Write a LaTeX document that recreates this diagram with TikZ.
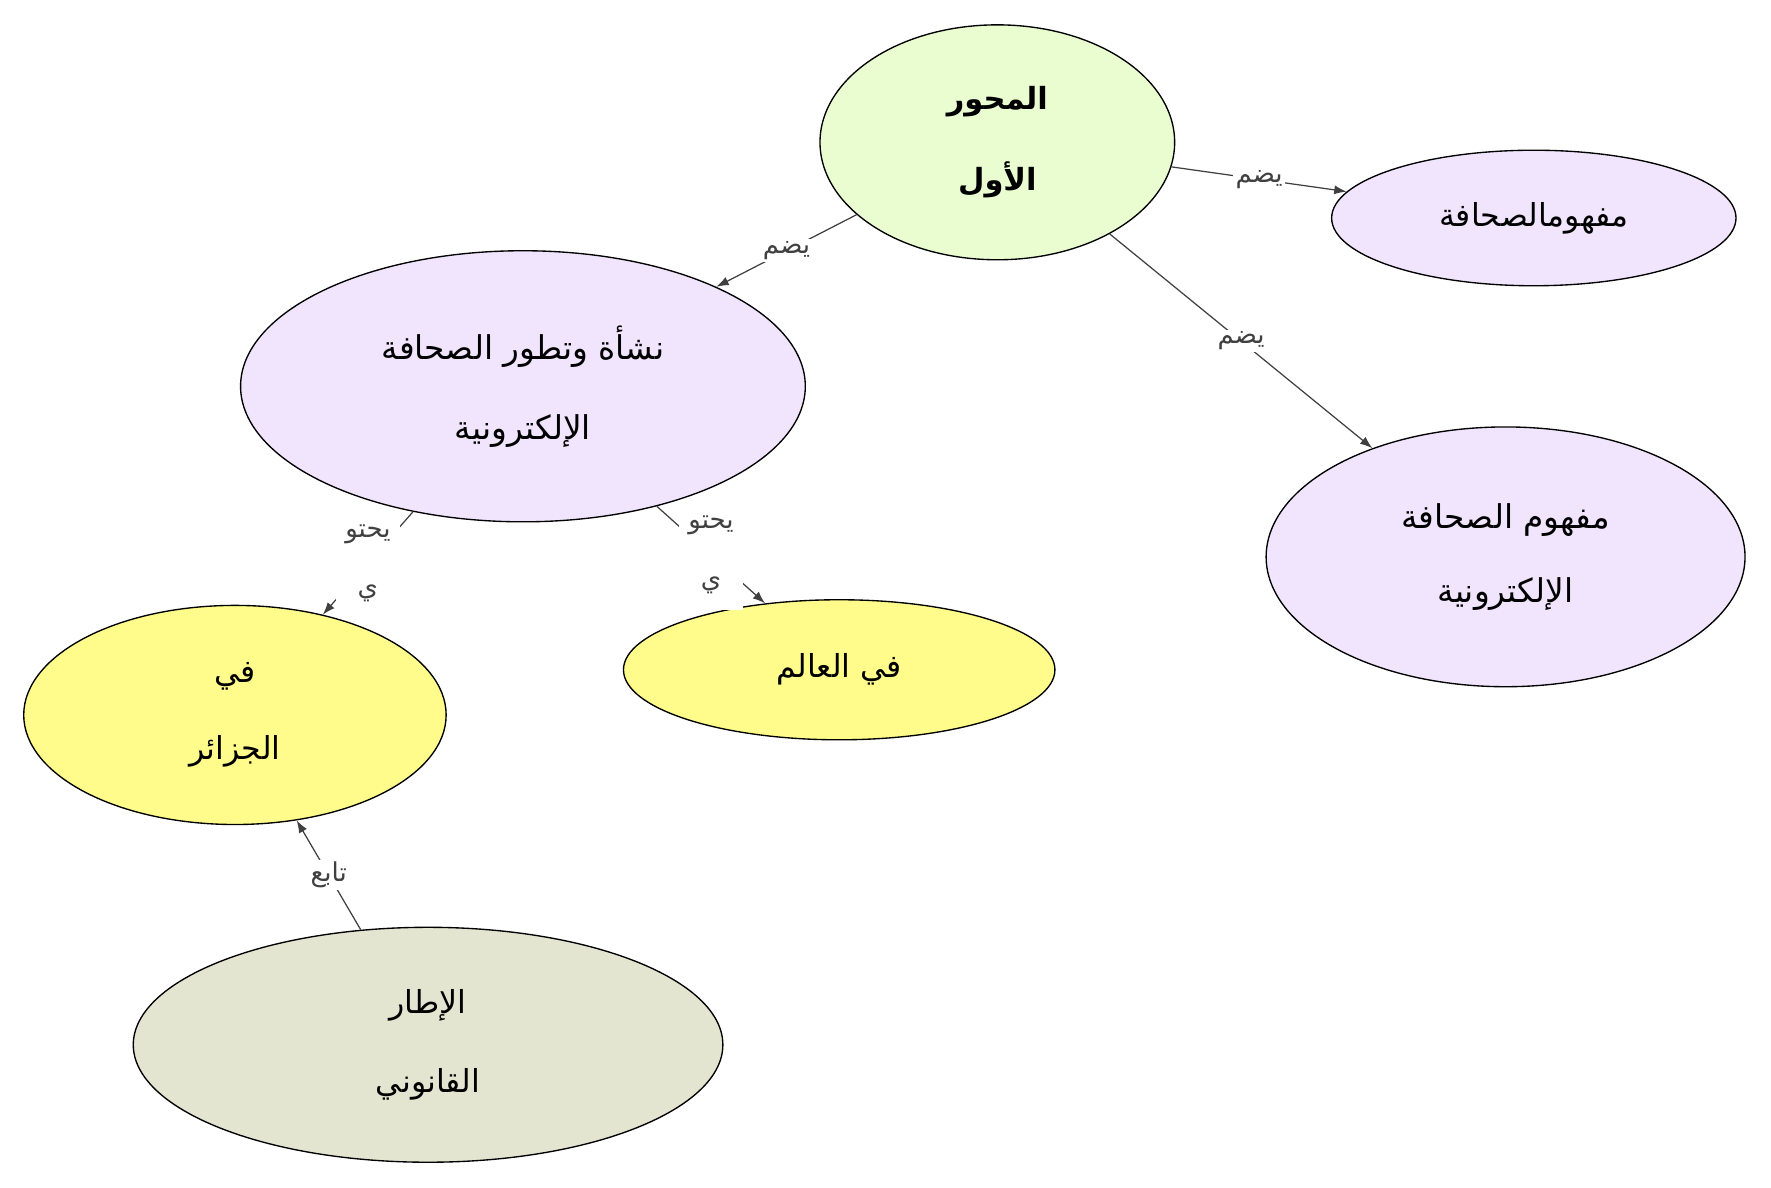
\documentclass[tikz,border=0pt]{standalone}
\usepackage{fontspec}
\newfontfamily\arabicfont[Script=Arabic]{DejaVu Sans}
\TeXXeTstate=1
\usetikzlibrary{shapes.geometric,arrows.meta}
\newcommand{\AR}[1]{\beginR #1\endR}
\definecolor{cgreen}{HTML}{E9FDD1}
\definecolor{clav}{HTML}{F1E5FD}
\definecolor{cyel}{HTML}{FFFC8C}
\definecolor{colive}{HTML}{E3E5D0}
\definecolor{linkgray}{HTML}{404040}
\tikzset{
  concept/.style={ellipse, draw=black, line width=1.2pt, inner sep=0pt, align=center,
    font=\arabicfont\fontsize{28}{70}\selectfont},
  link/.style={draw=linkgray, line width=1.1pt, -{Latex[length=11pt,width=8pt]}},
  lbl/.style={fill=white, text=linkgray, inner sep=2pt, align=center,
    font=\arabicfont\fontsize{23}{52}\selectfont},
  lbltall/.style={lbl, inner xsep=8pt, inner ysep=14pt}
}
\begin{document}
\begin{tikzpicture}[x=1pt,y=-1pt]
\useasboundingbox (0,0) rectangle (1568,1051.8);
\node[concept, fill=cgreen, minimum width=314pt, minimum height=208pt,
  font=\arabicfont\bfseries\fontsize{27}{72}\selectfont] (A) at (883,126) {\AR{المحور}\\\AR{الأول}};
\node[concept, fill=clav, minimum width=358pt, minimum height=120pt] (B) at (1358,193) {\AR{مفهومالصحافة}};
\node[concept, fill=clav, minimum width=500pt, minimum height=240pt,
  font=\arabicfont\fontsize{29}{71}\selectfont] (C) at (463,342) {\AR{نشأة وتطور الصحافة}\\\AR{الإلكترونية}};
\node[concept, fill=clav, minimum width=424pt, minimum height=230pt,
  font=\arabicfont\fontsize{29}{66}\selectfont] (D) at (1333,493) {\AR{مفهوم الصحافة}\\\AR{الإلكترونية}};
\node[concept, fill=cyel, minimum width=374pt, minimum height=194pt,
  font=\arabicfont\fontsize{28}{68}\selectfont] (E) at (208,633) {\AR{في}\\\AR{الجزائر}};
\node[concept, fill=cyel, minimum width=382pt, minimum height=124pt] (F) at (743,593) {\AR{في العالم}};
\node[concept, fill=colive, minimum width=522pt, minimum height=208pt] (G) at (379,925) {\AR{الإطار}\\\AR{القانوني}};
\draw[link] (A) -- node[lbl] (lab) {\AR{يضم}} (B);
\draw[link] (A) -- node[lbl] (lac) {\AR{يضم}} (C);
\draw[link] (A) -- node[lbl] (lad) {\AR{يضم}} (D);
\draw[link] (C) -- node[lbltall] (lce) {\AR{يحتو}\\\AR{ي}} (E);
\draw[link] (C) -- node[lbltall] (lcf) {\AR{يحتو}\\\AR{ي}} (F);
\draw[link] (G) -- node[lbl] (lge) {\AR{تابع}} (E);
\end{tikzpicture}
\end{document}
